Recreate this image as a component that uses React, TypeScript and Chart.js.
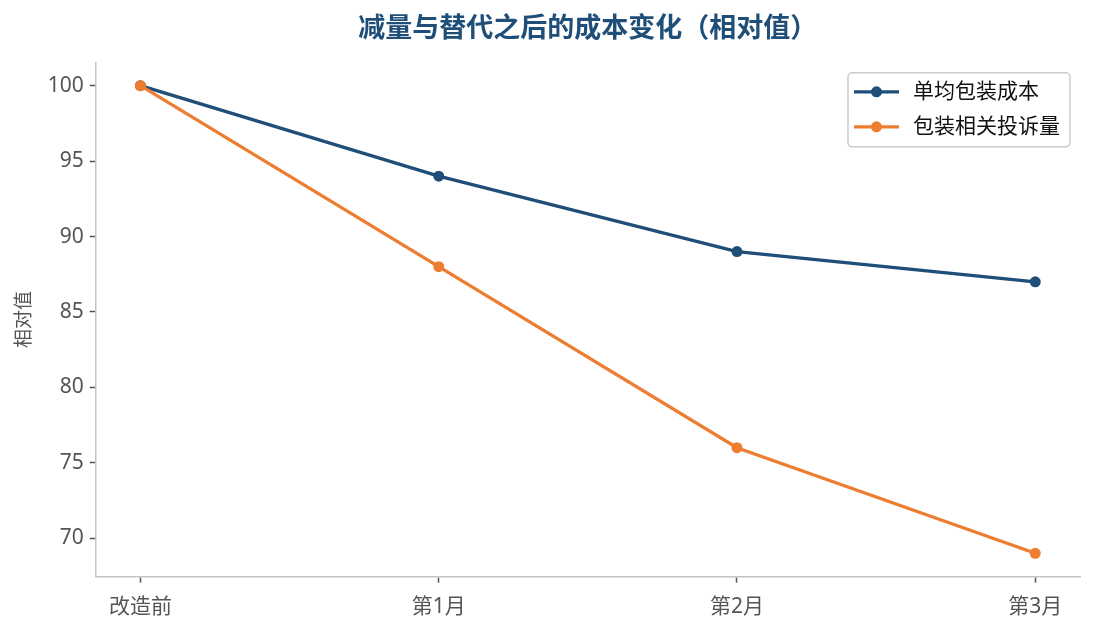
import { useEffect, useRef } from 'react';
import { Chart, registerables } from 'chart.js';

Chart.register(...registerables);

const categories = ['改造前', '第1月', '第2月', '第3月'];
const unitCost = [100, 94, 89, 87];
const complaints = [100, 88, 76, 69];
const seriesNames = ['单均包装成本', '包装相关投诉量'];
const yTicks = [70, 75, 80, 85, 90, 95, 100];

const BLUE = '#1F4E79';
const ORANGE = '#ED7D31';
const FONT = "'Noto Sans', 'Noto Sans CJK SC', sans-serif";

// legend in the upper right corner, line + marker like the reference
const lineLegend = {
  id: 'lineLegend',
  afterDraw(chart: any) {
    const { ctx, chartArea } = chart;
    const boxW = 222;
    const boxH = 74;
    const x0 = chartArea.right - 10 - boxW;
    const y0 = chartArea.top + 10.5;
    ctx.save();
    ctx.beginPath();
    ctx.roundRect(x0, y0, boxW, boxH, 4);
    ctx.fillStyle = 'rgba(255,255,255,0.8)';
    ctx.fill();
    ctx.strokeStyle = '#cccccc';
    ctx.lineWidth = 1.5;
    ctx.stroke();
    chart.data.datasets.forEach((ds: any, i: number) => {
      const cy = y0 + 19 + i * 35;
      ctx.strokeStyle = ds.borderColor;
      ctx.lineWidth = 3.3;
      ctx.beginPath();
      ctx.moveTo(x0 + 6, cy);
      ctx.lineTo(x0 + 51, cy);
      ctx.stroke();
      ctx.fillStyle = ds.borderColor;
      ctx.beginPath();
      ctx.arc(x0 + 28.5, cy, 5.5, 0, Math.PI * 2);
      ctx.fill();
      ctx.fillStyle = '#111111';
      ctx.font = `21px ${FONT}`;
      ctx.textBaseline = 'middle';
      ctx.textAlign = 'left';
      ctx.fillText(ds.label, x0 + 65, cy);
    });
    ctx.restore();
  },
};

export default function App() {
  const chartRef = useRef<HTMLCanvasElement>(null);
  const chartInstance = useRef<Chart | null>(null);

  useEffect(() => {
    if (!chartRef.current) return;
    const ctx = chartRef.current.getContext('2d');
    if (!ctx) return;
    chartInstance.current = new Chart(ctx, {
      type: 'line',
      data: {
        datasets: [
          {
            label: seriesNames[0],
            data: unitCost.map((v, i) => ({ x: i, y: v })),
            borderColor: BLUE,
            backgroundColor: BLUE,
            borderWidth: 3.3,
            pointRadius: 5.5,
            pointHoverRadius: 5.5,
            pointBorderWidth: 0,
            order: 1,
          },
          {
            label: seriesNames[1],
            data: complaints.map((v, i) => ({ x: i, y: v })),
            borderColor: ORANGE,
            backgroundColor: ORANGE,
            borderWidth: 3.3,
            pointRadius: 5.5,
            pointHoverRadius: 5.5,
            pointBorderWidth: 0,
            order: 0,
          },
        ],
      },
      options: {
        animation: false,
        responsive: true,
        maintainAspectRatio: false,
        layout: { padding: { left: 0, right: 15, top: 0, bottom: 0 } },
        scales: {
          x: {
            type: 'linear',
            min: -0.15,
            max: 3.15,
            afterBuildTicks: (scale: any) => {
              scale.ticks = categories.map((_, i) => ({ value: i }));
            },
            afterFit: (scale: any) => {
              scale.height = 53.3;
            },
            ticks: {
              callback: (v: any) => categories[v] ?? '',
              color: '#555555',
              font: { size: 21, family: FONT },
              padding: 12,
              maxRotation: 0,
              autoSkip: false,
            },
            grid: {
              drawOnChartArea: false,
              drawTicks: true,
              tickLength: 6,
              tickColor: '#555555',
              tickWidth: 1.5,
            },
            border: { color: '#c4c4c4', width: 1.5 },
          },
          y: {
            min: 67.45,
            max: 101.55,
            afterBuildTicks: (scale: any) => {
              scale.ticks = yTicks.map(v => ({ value: v }));
            },
            afterFit: (scale: any) => {
              scale.width = 95.7;
            },
            ticks: {
              color: '#555555',
              font: { size: 21, family: FONT },
              padding: 6,
            },
            grid: {
              drawOnChartArea: false,
              drawTicks: true,
              tickLength: 6,
              tickColor: '#555555',
              tickWidth: 1.5,
            },
            border: { color: '#c4c4c4', width: 1.5 },
            title: {
              display: true,
              text: '相对值',
              color: '#555555',
              font: { size: 19, family: FONT },
              padding: { top: 13, bottom: 0 },
            },
          },
        },
        plugins: {
          legend: { display: false },
          tooltip: { enabled: false },
          title: {
            display: true,
            text: '减量与替代之后的成本变化（相对值）',
            color: BLUE,
            fullSize: false,
            font: { size: 27, weight: 'bold', family: FONT },
            padding: { top: 13.3, bottom: 16.6 },
          },
        },
      },
      plugins: [lineLegend],
    });
    return () => {
      chartInstance.current?.destroy();
    };
  }, []);

  return (
    <div style={{ position: 'fixed', left: 0, top: 0, width: 1095, height: 630, background: '#ffffff' }}>
      <canvas ref={chartRef}></canvas>
    </div>
  );
}
